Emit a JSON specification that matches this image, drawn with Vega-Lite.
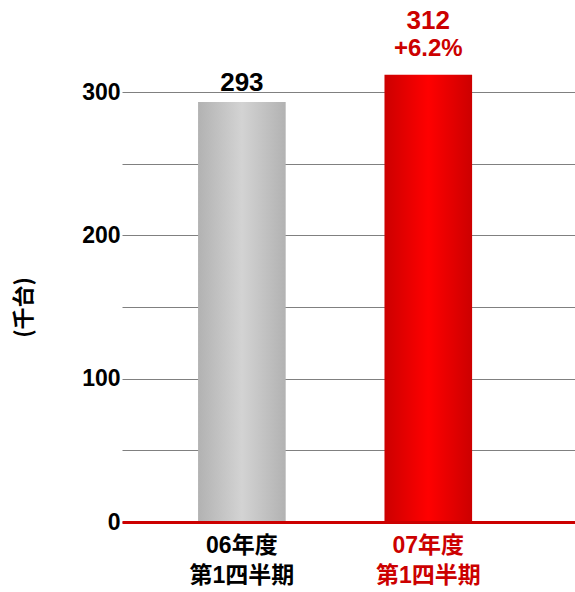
{
  "$schema": "https://vega.github.io/schema/vega-lite/v6.json",
  "width": 453,
  "height": 430,
  "autosize": {"type": "none"},
  "padding": {"left": 122, "top": 92, "right": 0, "bottom": 70},
  "background": "white",
  "config": {
    "view": {"stroke": null},
    "font": "Liberation Sans, Noto Sans CJK JP"
  },
  "data": {
    "values": [
      {"period": "06年度 第1四半期", "value": 293, "label": "293", "pct": ""},
      {"period": "07年度 第1四半期", "value": 312, "label": "312", "pct": "+6.2%"}
    ]
  },
  "encoding": {
    "x": {
      "field": "period",
      "type": "nominal",
      "sort": null,
      "scale": {"paddingInner": 0.53, "paddingOuter": 0.48, "align": 0.425},
      "axis": {
        "title": null,
        "labelAngle": 0,
        "labelExpr": "split(datum.label, ' ')",
        "labelFont": "Liberation Sans, Noto Sans CJK JP",
        "labelFontSize": 23,
        "labelFontWeight": "bold",
        "labelLineHeight": 30,
        "labelPadding": 12,
        "labelColor": {"condition": {"test": "indexof(datum.value, '07') === 0", "value": "#cc0000"}, "value": "#000000"},
        "ticks": false,
        "domainColor": "#cc0000",
        "domainWidth": 3,
        "zindex": 1
      }
    },
    "y": {
      "field": "value",
      "type": "quantitative",
      "scale": {"domain": [0, 300], "nice": false},
      "axis": {
        "title": "(千台)",
        "titleFont": "Noto Sans CJK JP",
        "titleFontSize": 22,
        "titleFontWeight": "bold",
        "titleColor": "#000000",
        "titlePadding": 46,
        "values": [0, 50, 100, 150, 200, 250, 300],
        "labelExpr": "datum.value % 100 === 0 ? datum.label : ''",
        "labelFont": "Liberation Sans",
        "labelFontSize": 23,
        "labelFontWeight": "bold",
        "labelColor": "#000000",
        "labelPadding": 2,
        "ticks": false,
        "domain": false,
        "gridColor": "#808080",
        "gridWidth": 1,
        "gridOpacity": 1
      }
    }
  },
  "layer": [
    {
      "transform": [{"filter": "indexof(datum.period, '06') === 0"}],
      "mark": {
        "type": "bar",
        "color": {
          "gradient": "linear", "x1": 0, "x2": 1, "y1": 0, "y2": 0,
          "stops": [
            {"offset": 0, "color": "#b2b2b2"},
            {"offset": 0.5, "color": "#d3d3d3"},
            {"offset": 1, "color": "#b2b2b2"}
          ]
        }
      }
    },
    {
      "transform": [{"filter": "indexof(datum.period, '07') === 0"}],
      "mark": {
        "type": "bar",
        "color": {
          "gradient": "linear", "x1": 0, "x2": 1, "y1": 0, "y2": 0,
          "stops": [
            {"offset": 0, "color": "#cc0000"},
            {"offset": 0.5, "color": "#ff0000"},
            {"offset": 1, "color": "#cc0000"}
          ]
        }
      }
    },
    {
      "mark": {"type": "text", "baseline": "alphabetic", "dy": -46, "fontSize": 26, "fontWeight": "bold", "font": "Liberation Sans", "color": "#cc0000"},
      "encoding": {"text": {"field": "label"}},
      "transform": [{"filter": "datum.pct !== ''"}]
    },
    {
      "mark": {"type": "text", "baseline": "alphabetic", "dy": -11, "fontSize": 26, "fontWeight": "bold", "font": "Liberation Sans", "color": "#000000"},
      "encoding": {"text": {"field": "label"}},
      "transform": [{"filter": "datum.pct === ''"}]
    },
    {
      "mark": {"type": "text", "baseline": "alphabetic", "dy": -19, "fontSize": 24, "fontWeight": "bold", "font": "Liberation Sans", "color": "#cc0000"},
      "encoding": {"text": {"field": "pct"}},
      "transform": [{"filter": "datum.pct !== ''"}]
    }
  ]
}
